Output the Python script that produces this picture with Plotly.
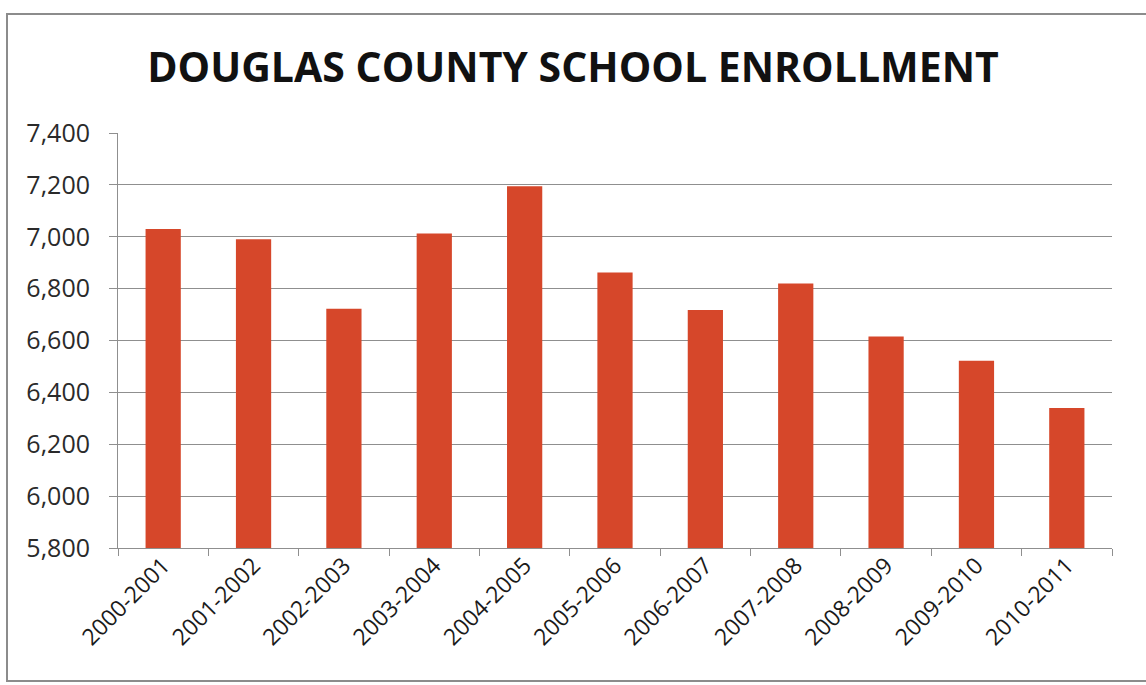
import plotly.graph_objects as go

# School years and enrollment counts
years = ["2000-2001", "2001-2002", "2002-2003", "2003-2004", "2004-2005",
         "2005-2006", "2006-2007", "2007-2008", "2008-2009", "2009-2010",
         "2010-2011"]
enrollment = [7030, 6990, 6722, 7013, 7195, 6862, 6718, 6820, 6615, 6522, 6340]

y_ticks = [5800, 6000, 6200, 6400, 6600, 6800, 7000, 7200, 7400]

W, H = 1146, 685
ML, MR, MT, MB = 118, 34, 133, 137
plot_w = W - ML - MR
plot_h = H - MT - MB


def px_x(px):
    return (px - ML) / plot_w


def px_y(py):
    return (H - MB - py) / plot_h


fig = go.Figure(
    go.Bar(
        x=years,
        y=enrollment,
        marker=dict(color="#D6472A", line=dict(width=0)),
        width=0.39,
    )
)

# outer chart-area frame
fig.add_shape(
    type="rect", xref="paper", yref="paper",
    x0=px_x(7), x1=px_x(1160), y0=px_y(681), y1=px_y(14),
    line=dict(color="#8c8c8c", width=2), fillcolor="rgba(0,0,0,0)",
    layer="below",
)

fig.update_layout(
    width=W, height=H,
    margin=dict(l=ML, r=MR, t=MT, b=MB),
    paper_bgcolor="white", plot_bgcolor="white",
    showlegend=False,
    title=dict(
        text="<b>DOUGLAS COUNTY SCHOOL ENROLLMENT</b>",
        x=0.5, xanchor="center", xref="container",
        y=1 - 68 / H, yanchor="middle", yref="container",
        font=dict(family="Open Sans", size=41, color="#111"),
    ),
    bargap=0.6,
)

fig.update_yaxes(
    range=[5800, 7400],
    tickvals=y_ticks,
    tickformat=",",
    showgrid=True, gridcolor="#8f8f8f", gridwidth=1,
    showline=True, linecolor="#8f8f8f", linewidth=1,
    ticks="outside", ticklen=8, tickcolor="#8f8f8f",
    tickfont=dict(family="Open Sans", size=25, color="#2a2a2a"),
    ticklabelstandoff=14,
    zeroline=False,
)
fig.update_xaxes(
    type="category",
    tickangle=-45,
    tickson="boundaries",
    showline=True, linecolor="#8f8f8f", linewidth=1,
    ticks="outside", ticklen=7, tickcolor="#8f8f8f",
    tickfont=dict(family="Open Sans", size=23, color="#1a1a1a"),
    ticklabelstandoff=-6,
    showgrid=False,
)

fig.write_html("out.html")
